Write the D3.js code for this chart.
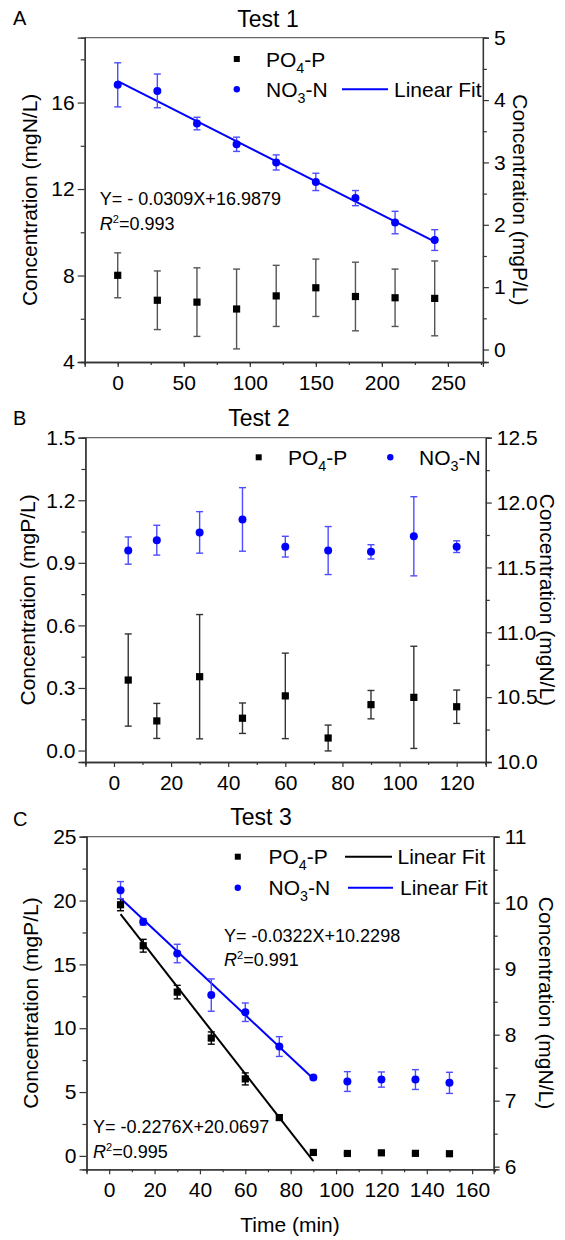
<!DOCTYPE html>
<html>
<head>
<meta charset="utf-8">
<script src="https://cdn.jsdelivr.net/npm/d3@7"></script>
<style>
  body { margin: 0; background: #fff; }
  text { font-family: "Liberation Sans", Arial, sans-serif; fill: #000; }
</style>
</head>
<body>
<svg id="chart" width="565" height="1240"></svg>
<script>
// ---- data ----
// Test 1
const timeA = [0, 30, 60, 90, 120, 150, 180, 210, 240];
const no3A = [16.82, 16.54, 15.03, 14.07, 13.23, 12.33, 11.58, 10.45, 9.64];
const no3AErr = [1.02, 0.78, 0.29, 0.33, 0.35, 0.40, 0.35, 0.52, 0.48];
const po4A = [1.19, 0.79, 0.76, 0.65, 0.86, 0.99, 0.85, 0.83, 0.82];
const po4AErr = [0.36, 0.47, 0.55, 0.64, 0.49, 0.46, 0.55, 0.46, 0.60];
const fitA = {slope: -0.0309, intercept: 16.9879, from: 0, to: 240};

// Test 2
const timeB = [5, 15, 30, 45, 60, 75, 90, 105, 120];
const no3B = [11.63, 11.71, 11.77, 11.87, 11.66, 11.63, 11.62, 11.74, 11.66];
const no3BErr = [0.105, 0.115, 0.16, 0.245, 0.08, 0.185, 0.055, 0.305, 0.045];
const po4B = [0.338, 0.142, 0.354, 0.155, 0.262, 0.06, 0.22, 0.255, 0.21];
const po4BErr = [0.221, 0.084, 0.298, 0.073, 0.205, 0.062, 0.068, 0.245, 0.08];

// Test 3
const timeC = [5, 15, 30, 45, 60, 75, 90, 105, 120, 135, 150];
const po4C = [19.67, 16.46, 12.83, 9.23, 6.03, 3.0, 0.27, 0.19, 0.24, 0.2, 0.17];
const po4CErr = [0.47, 0.5, 0.53, 0.48, 0.47, 0.2, 0.1, 0.05, 0.05, 0.05, 0.05];
const no3C = [10.19, 9.71, 9.23, 8.6, 8.34, 7.82, 7.35, 7.29, 7.32, 7.32, 7.27];
const no3CErr = [0.13, 0.05, 0.14, 0.245, 0.14, 0.15, 0.03, 0.15, 0.115, 0.15, 0.16];
const fitCp = {slope: -0.2276, intercept: 20.0697, from: 5, to: 90};
const fitCn = {slope: -0.0322, intercept: 10.2298, from: 5, to: 90};

const svg = d3.select("#chart");
svg.append("rect").attr("width", 565).attr("height", 1240).attr("fill", "#fff");

const BLUE = "#0000ff";
const FONT = 21;

const panels = [
  {
    letter: "A", title: "Test 1", titleX: 268, titleY: 27, letterY: 25,
    box: {l: 84.7, r: 482.9, t: 37.7, b: 362}, labelLX: 37, labelRX: 513,
    x: [-25, 276.5], xMajor: d3.range(0, 251, 50), xMinor: d3.range(-25, 276, 25),
    yL: [4, 19], yLMajor: [4, 8, 12, 16], yLMinor: [6, 10, 14, 18], fmtL: d3.format("d"),
    yR: [-0.2, 5], yRMajor: d3.range(0, 5.01, 1), yRMinor: d3.range(0.5, 5, 1), fmtR: d3.format("d"),
    labelL: "Concentration (mgN/L)", labelR: "Concentration (mgP/L)",
    po4: {t: timeA, v: po4A, e: po4AErr, axis: "R", errColor: "#555"},
    no3: {t: timeA, v: no3A, e: no3AErr, axis: "L"},
    fits: [{f: fitA, axis: "L", color: BLUE}],
    legend: [
      {sym: "sq", x: 236.8, y: 59, text: ["PO", "4", "-P"], tx: 266},
      {sym: "ci", x: 236.8, y: 89.3, text: ["NO", "3", "-N"], tx: 266},
      {sym: "line", color: BLUE, x1: 342, x2: 388, y: 89.3, label: "Linear Fit", tx: 394}
    ],
    notes: [{x: 99.8, y: 205, eq: "Y= - 0.0309X+16.9879", r2: "=0.993"}]
  },
  {
    letter: "B", title: "Test 2", titleX: 259, titleY: 426, letterY: 425,
    box: {l: 85.4, r: 485.8, t: 437.7, b: 762}, labelLX: 35, labelRX: 540,
    x: [-10, 130.2], xMajor: d3.range(0, 121, 20), xMinor: d3.range(-10, 131, 20),
    yL: [-0.055, 1.5], yLMajor: d3.range(0, 1.51, 0.3), yLMinor: d3.range(0.15, 1.5, 0.3), fmtL: d3.format(".1f"),
    yR: [10, 12.5], yRMajor: d3.range(10, 12.51, 0.5), yRMinor: d3.range(10.25, 12.5, 0.5), fmtR: d3.format(".1f"),
    labelL: "Concentration (mgP/L)", labelR: "Concentration (mgN/L)",
    po4: {t: timeB, v: po4B, e: po4BErr, axis: "L", errColor: "#333"},
    no3: {t: timeB, v: no3B, e: no3BErr, axis: "R"},
    fits: [],
    legend: [
      {sym: "sq", x: 258.7, y: 457.3, text: ["PO", "4", "-P"], tx: 288},
      {sym: "ci", x: 390.3, y: 457.3, text: ["NO", "3", "-N"], tx: 419}
    ],
    notes: []
  },
  {
    letter: "C", title: "Test 3", titleX: 261, titleY: 825, letterY: 826,
    box: {l: 86.5, r: 493.7, t: 836.7, b: 1169.3}, labelLX: 38, labelRX: 539,
    x: [-10, 169.5], xMajor: d3.range(0, 161, 20), xMinor: d3.range(-10, 171, 20),
    yL: [-1.05, 25], yLMajor: d3.range(0, 26, 5), yLMinor: d3.range(2.5, 25, 5), fmtL: d3.format("d"),
    yR: [5.96, 11], yRMajor: d3.range(6, 11.01, 1), yRMinor: d3.range(6.5, 11, 1), fmtR: d3.format("d"),
    labelL: "Concentration (mgP/L)", labelR: "Concentration (mgN/L)",
    po4: {t: timeC, v: po4C, e: po4CErr, axis: "L", errColor: "#000"},
    no3: {t: timeC, v: no3C, e: no3CErr, axis: "R"},
    fits: [{f: fitCp, axis: "L", color: "#000"}, {f: fitCn, axis: "R", color: BLUE}],
    legend: [
      {sym: "sq", x: 237.8, y: 856.7, text: ["PO", "4", "-P"], tx: 268.5},
      {sym: "line", color: "#000", x1: 345, x2: 392, y: 856.7, label: "Linear Fit", tx: 397.5},
      {sym: "ci", x: 237.8, y: 887.7, text: ["NO", "3", "-N"], tx: 268.5},
      {sym: "line", color: BLUE, x1: 348, x2: 393, y: 887.7, label: "Linear Fit", tx: 400}
    ],
    notes: [
      {x: 224, y: 941.7, eq: "Y= -0.0322X+10.2298", r2: "=0.991"},
      {x: 93, y: 1133.3, eq: "Y= -0.2276X+20.0697", r2: "=0.995"}
    ],
    xTitle: "Time (min)"
  }
];

function styleAxis(g) {
  g.select(".domain").attr("stroke", "#333").attr("stroke-width", 1.3);
  g.selectAll(".tick line").attr("stroke", "#333").attr("stroke-width", 1.2);
  g.selectAll(".tick text").attr("font-size", FONT).attr("fill", "#000")
    .attr("font-family", '"Liberation Sans", Arial, sans-serif');
}

function subText(g, x, y, parts, size) {
  const t = g.append("text").attr("x", x).attr("y", y).attr("font-size", size);
  t.append("tspan").text(parts[0]);
  t.append("tspan").attr("font-size", size * 0.68).attr("dy", 6).text(parts[1]);
  t.append("tspan").attr("dy", -6).text(parts[2]);
}

panels.forEach(p => {
  const g = svg.append("g");
  const b = p.box;
  const x = d3.scaleLinear().domain(p.x).range([b.l, b.r]);
  const yL = d3.scaleLinear().domain(p.yL).range([b.b, b.t]);
  const yR = d3.scaleLinear().domain(p.yR).range([b.b, b.t]);
  const yOf = a => a === "L" ? yL : yR;

  // top frame
  g.append("line").attr("x1", b.l).attr("x2", b.r).attr("y1", b.t).attr("y2", b.t)
    .attr("stroke", "#666").attr("stroke-width", 1.3);

  // axes: minor first, then major
  g.append("g").attr("transform", `translate(0,${b.b})`)
    .call(d3.axisBottom(x).tickValues(p.xMinor).tickSize(3).tickFormat("")).call(styleAxis);
  g.append("g").attr("transform", `translate(0,${b.b})`)
    .call(d3.axisBottom(x).tickValues(p.xMajor).tickSize(5).tickPadding(8).tickFormat(d3.format("d")))
    .call(styleAxis);

  g.append("g").attr("transform", `translate(${b.l},0)`)
    .call(d3.axisLeft(yL).tickValues(p.yLMinor).tickSize(4).tickFormat("")).call(styleAxis);
  g.append("g").attr("transform", `translate(${b.l},0)`)
    .call(d3.axisLeft(yL).tickValues(p.yLMajor).tickSize(7).tickPadding(3).tickFormat(p.fmtL))
    .call(styleAxis);

  g.append("g").attr("transform", `translate(${b.r},0)`)
    .call(d3.axisRight(yR).tickValues(p.yRMinor).tickSize(4).tickFormat("")).call(styleAxis);
  g.append("g").attr("transform", `translate(${b.r},0)`)
    .call(d3.axisRight(yR).tickValues(p.yRMajor).tickSize(6).tickPadding(5).tickFormat(p.fmtR))
    .call(styleAxis);

  // axis titles
  const midY = (b.t + b.b) / 2;
  g.append("text").attr("transform", `translate(${p.labelLX},${midY}) rotate(-90)`)
    .attr("text-anchor", "middle").attr("font-size", FONT).text(p.labelL);
  g.append("text").attr("transform", `translate(${p.labelRX},${midY}) rotate(90)`)
    .attr("text-anchor", "middle").attr("font-size", FONT).text(p.labelR);

  // title + panel letter
  g.append("text").attr("x", p.titleX).attr("y", p.titleY).attr("text-anchor", "middle")
    .attr("font-size", 23).text(p.title);
  g.append("text").attr("x", 13).attr("y", p.letterY).attr("font-size", 20).text(p.letter);

  if (p.xTitle) {
    g.append("text").attr("x", 290).attr("y", 1232).attr("text-anchor", "middle")
      .attr("font-size", FONT).text(p.xTitle);
  }

  // fit lines
  p.fits.forEach(fl => {
    const ys = yOf(fl.axis);
    g.append("line")
      .attr("x1", x(fl.f.from)).attr("y1", ys(fl.f.slope * fl.f.from + fl.f.intercept))
      .attr("x2", x(fl.f.to)).attr("y2", ys(fl.f.slope * fl.f.to + fl.f.intercept))
      .attr("stroke", fl.color).attr("stroke-width", 2);
  });

  // error bars + markers
  function series(s, color, errColor, shape) {
    const ys = yOf(s.axis);
    const data = s.t.map((t, i) => ({t, v: s.v[i], e: s.e[i]}));
    const eg = g.append("g").attr("stroke", errColor).attr("stroke-width", 1.4);
    data.forEach(d => {
      const cx = x(d.t), y1 = ys(d.v + d.e), y2 = ys(d.v - d.e);
      eg.append("line").attr("x1", cx).attr("x2", cx).attr("y1", y1).attr("y2", y2);
      eg.append("line").attr("x1", cx - 3.5).attr("x2", cx + 3.5).attr("y1", y1).attr("y2", y1);
      eg.append("line").attr("x1", cx - 3.5).attr("x2", cx + 3.5).attr("y1", y2).attr("y2", y2);
    });
    if (shape === "sq") {
      g.selectAll(null).data(data).join("rect")
        .attr("x", d => x(d.t) - 3.6).attr("y", d => ys(d.v) - 3.6)
        .attr("width", 7.2).attr("height", 7.2).attr("fill", color);
    } else {
      g.selectAll(null).data(data).join("circle")
        .attr("cx", d => x(d.t)).attr("cy", d => ys(d.v)).attr("r", 4).attr("fill", color);
    }
  }
  series(p.po4, "#000", p.po4.errColor, "sq");
  series(p.no3, BLUE, "#4d4dff", "ci");

  // legend
  p.legend.forEach(l => {
    if (l.sym === "sq") {
      g.append("rect").attr("x", l.x - 3).attr("y", l.y - 3).attr("width", 6).attr("height", 6).attr("fill", "#000");
    } else if (l.sym === "ci") {
      g.append("circle").attr("cx", l.x).attr("cy", l.y).attr("r", 3.2).attr("fill", BLUE);
    } else {
      g.append("line").attr("x1", l.x1).attr("x2", l.x2).attr("y1", l.y).attr("y2", l.y)
        .attr("stroke", l.color).attr("stroke-width", 2);
      g.append("text").attr("x", l.tx).attr("y", l.y + 7.5).attr("font-size", FONT).text(l.label);
    }
    if (l.text) subText(g, l.tx, l.y + 7.5, l.text, FONT);
  });

  // fit annotations
  p.notes.forEach(n => {
    g.append("text").attr("x", n.x).attr("y", n.y).attr("font-size", 18).text(n.eq);
    const t = g.append("text").attr("x", n.x).attr("y", n.y + 24.5).attr("font-size", 18);
    t.append("tspan").attr("font-style", "italic").text("R");
    t.append("tspan").attr("font-size", 11).attr("dy", -7).text("2");
    t.append("tspan").attr("dy", 7).text(n.r2);
  });
});
</script>
</body>
</html>
